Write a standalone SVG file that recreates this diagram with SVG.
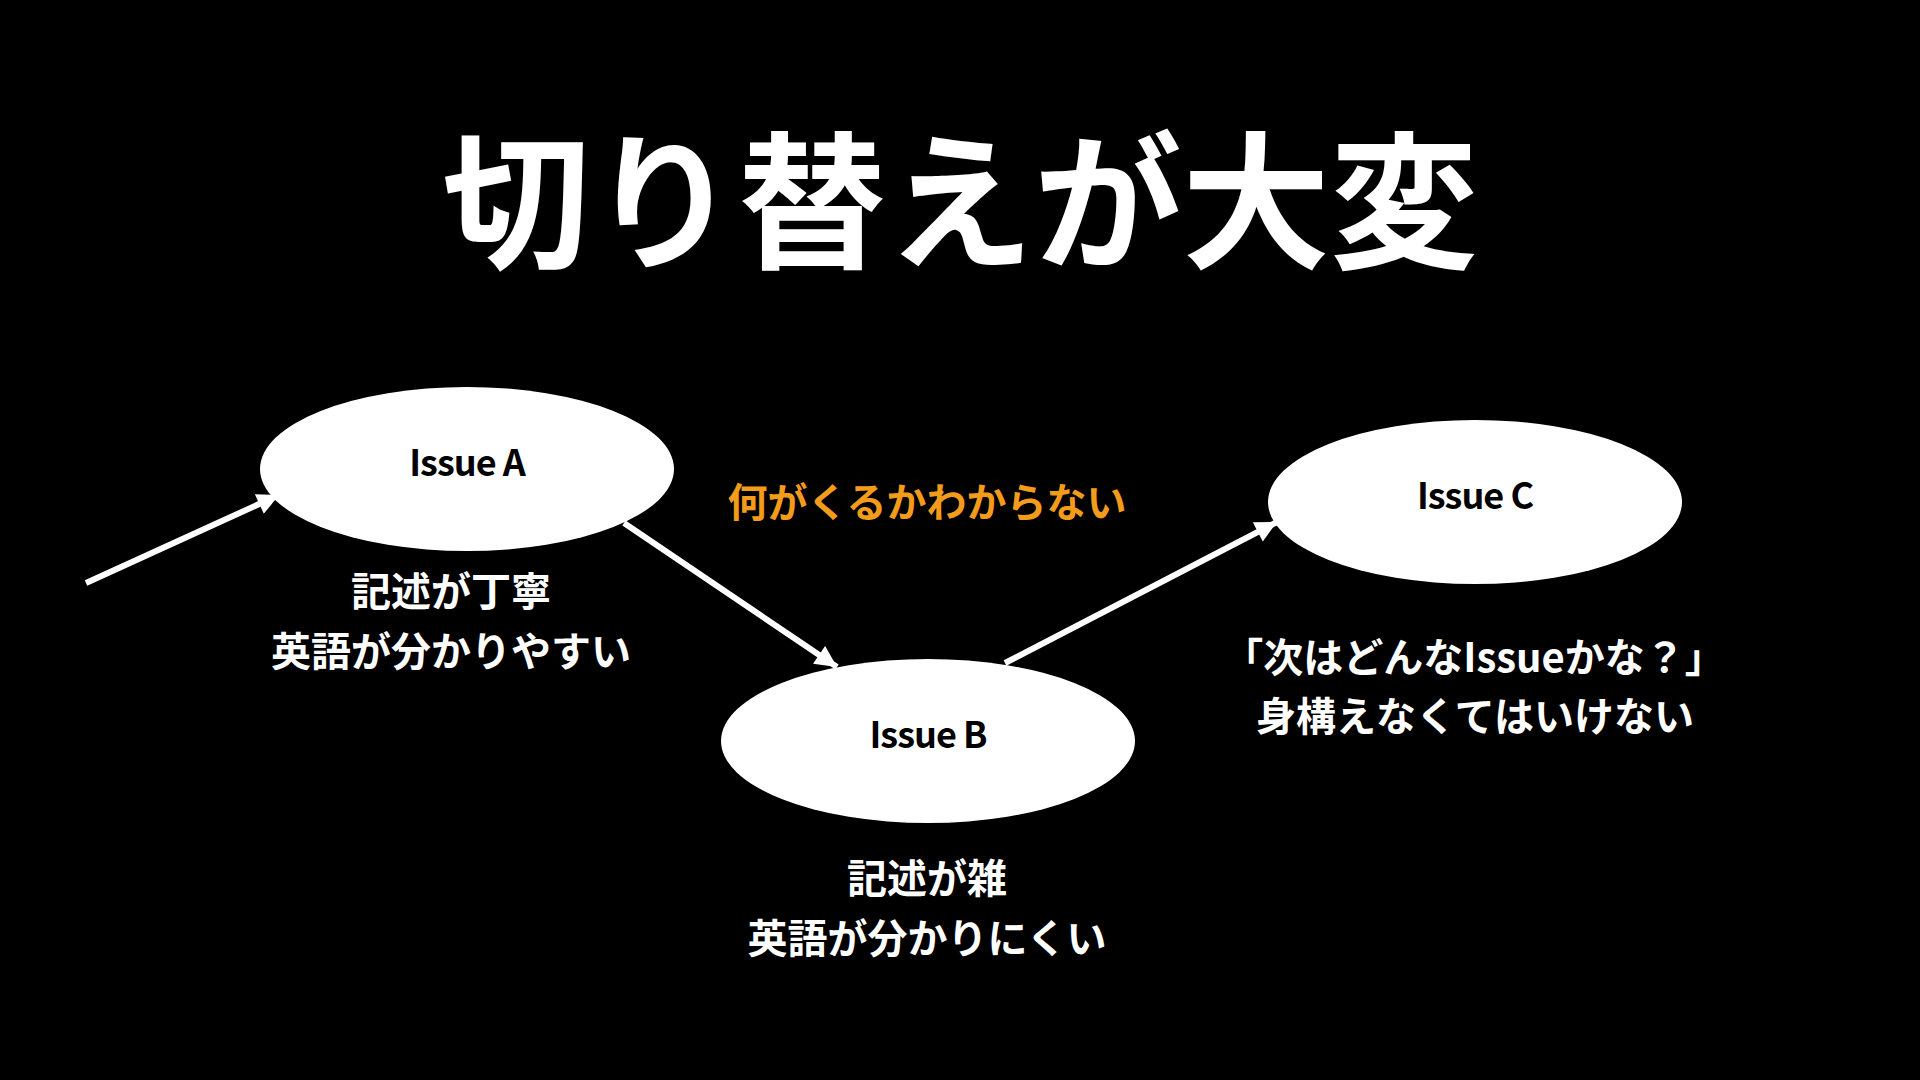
<svg xmlns="http://www.w3.org/2000/svg" width="1920" height="1080" viewBox="0 0 1920 1080">
<defs>
<style>
.t{font-family:"Noto Sans CJK JP","Noto Sans CJK SC",sans-serif;font-weight:700;text-anchor:middle}
.w{fill:#fff}
.lbl{font-size:40px}
.nl{font-size:36px;fill:#000;letter-spacing:-1px}
.node{fill:#fff}
.edge{stroke:#fff;stroke-width:6;fill:none}
</style>
<marker id="ah" viewBox="0 0 10 10" refX="10" refY="5" markerWidth="4" markerHeight="3.6" markerUnits="strokeWidth" orient="auto">
<path d="M0,0 L10,5 L0,10 z" fill="#fff"/>
</marker>
</defs>
<rect width="1920" height="1080" fill="#000"/>
<text class="t w" x="960" y="257" font-size="148" font-weight="900">切り替えが大変</text>
<g id="connectors">
<line class="edge" x1="86" y1="583" x2="279" y2="495" marker-end="url(#ah)"/>
<line class="edge" x1="624" y1="523" x2="837" y2="667" marker-end="url(#ah)"/>
<line class="edge" x1="1005" y1="663" x2="1277" y2="522" marker-end="url(#ah)"/>
</g>
<g id="issue-a">
<ellipse class="node" cx="467" cy="469" rx="207" ry="82"/>
<text class="t nl" x="467" y="476">Issue A</text>
</g>
<g id="issue-b">
<ellipse class="node" cx="928" cy="741" rx="207" ry="82"/>
<text class="t nl" x="928" y="748">Issue B</text>
</g>
<g id="issue-c">
<ellipse class="node" cx="1475" cy="502" rx="207" ry="82"/>
<text class="t nl" x="1475" y="509">Issue C</text>
</g>
<g id="notes">
<text class="t w lbl" x="451" y="606">記述が丁寧</text>
<text class="t w lbl" x="451" y="666">英語が分かりやすい</text>
<text class="t lbl" x="927" y="517" fill="#F39C1B">何がくるかわからない</text>
<text class="t w lbl" x="927" y="893">記述が雑</text>
<text class="t w lbl" x="927" y="953">英語が分かりにくい</text>
<text class="t w lbl" x="1474" y="672">「次はどんなIssueかな？」</text>
<text class="t w lbl" x="1475" y="731">身構えなくてはいけない</text>
</g>
</svg>
